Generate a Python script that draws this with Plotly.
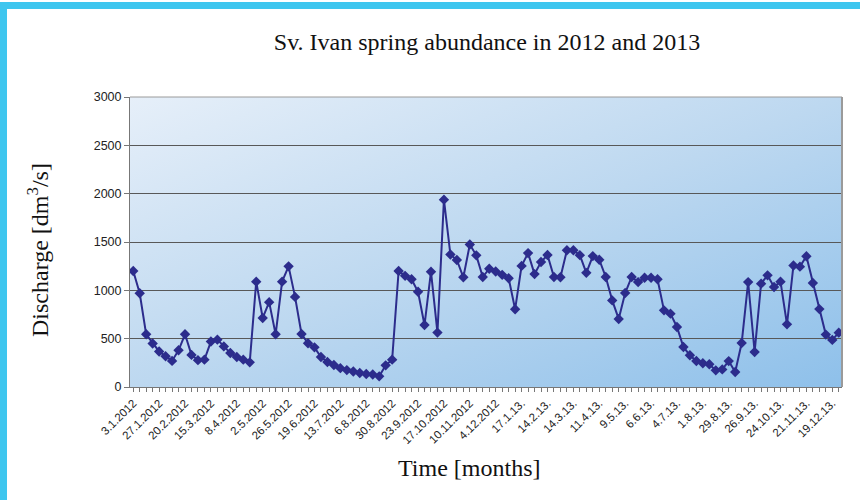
import base64
import plotly.graph_objects as go

# Tick labels shown every 4th measurement
tick_labels = ["3.1.2012", "27.1.2012", "20.2.2012", "15.3.2012", "8.4.2012", "2.5.2012",
               "26.5.2012", "19.6.2012", "13.7.2012", "6.8.2012", "30.8.2012", "23.9.2012",
               "17.10.2012", "10.11.2012", "4.12.2012", "17.1.13.", "14.2.13.", "14.3.13.",
               "11.4.13.", "9.5.13.", "6.6.13.", "4.7.13.", "1.8.13.", "29.8.13.", "26.9.13.",
               "24.10.13.", "21.11.13.", "19.12.13."]

# Discharge values [dm3/s]
discharge = [1200, 970, 545, 450, 368, 318, 270, 380, 545, 332,
             278, 283, 470, 490, 420, 352, 310, 283, 255, 1090,
             714, 878, 545, 1090, 1248, 932, 548, 452, 410, 310,
             259, 228, 195, 175, 160, 145, 135, 130, 110, 224,
             283, 1200, 1150, 1115, 985, 641, 1193, 563, 1938, 1370,
             1314, 1135, 1474, 1362, 1138, 1224, 1195, 1160, 1125, 805,
             1253, 1385, 1168, 1293, 1365, 1138, 1135, 1414, 1414, 1364,
             1181, 1354, 1317, 1138, 896, 704, 972, 1138, 1085, 1130,
             1130, 1115, 793, 759, 621, 414, 328, 269, 245, 235,
             172, 182, 268, 155, 455, 1085, 362, 1069, 1155, 1034,
             1090, 648, 1257, 1245, 1352, 1076, 806, 542, 487, 562]

y_ticks = [0, 500, 1000, 1500, 2000, 2500, 3000]

x_idx = list(range(len(discharge)))
tick_pos = x_idx[::4][:len(tick_labels)]

svg = ("<svg xmlns='http://www.w3.org/2000/svg' width='712' height='290' preserveAspectRatio='none'>"
       "<defs><linearGradient id='g' x1='0' y1='0' x2='1' y2='1'>"
       "<stop offset='0' stop-color='#e6eff9'/><stop offset='0.5' stop-color='#bdd8f0'/>"
       "<stop offset='1' stop-color='#8ec0ea'/></linearGradient></defs>"
       "<rect width='712' height='290' fill='url(#g)'/></svg>")
svg_uri = "data:image/svg+xml;base64," + base64.b64encode(svg.encode()).decode()

fig = go.Figure()
fig.add_trace(go.Scatter(
    x=x_idx, y=discharge, mode="lines+markers",
    line=dict(color="#2c2c8c", width=2),
    marker=dict(symbol="diamond", size=8, color="#2c2c8c"),
    showlegend=False,
))

L, R, T, B = 130, 18, 97, 113
W, H = 860, 500
pw, ph = W - L - R, H - T - B

def px_x(p):
    return (p - L) / pw

def px_y(p):
    return (H - B - p) / ph

serif = "Liberation Serif"

fig.update_layout(
    width=W, height=H,
    margin=dict(l=L, r=R, t=T, b=B),
    paper_bgcolor="white",
    plot_bgcolor="rgba(0,0,0,0)",
    title=dict(text="Sv. Ivan spring abundance in 2012 and 2013",
               font=dict(family=serif, size=24, color="#111"),
               x=487 / W, xanchor="center",
               y=1 - 42 / H, yanchor="middle"),
    images=[dict(source=svg_uri, xref="paper", yref="paper", x=0, y=1,
                 sizex=1, sizey=1, sizing="stretch", xanchor="left", yanchor="top",
                 layer="below")],
    xaxis=dict(range=[-0.5, len(discharge) - 0.5], tickmode="array",
               tickvals=tick_pos, ticktext=tick_labels, tickangle=-45,
               tickfont=dict(family="Liberation Sans", size=11.5, color="#222"),
               ticks="outside", ticklen=4, tickcolor="#777",
               minor=dict(ticks="outside", ticklen=4, tickcolor="#777", dtick=1, tick0=0),
               showgrid=False, showline=True, linecolor="#777", linewidth=1,
               mirror=False, zeroline=False),
    yaxis=dict(range=[0, 3000], tickvals=y_ticks,
               tickfont=dict(family="Liberation Sans", size=12.5, color="#222"),
               ticks="outside", ticklen=5, tickcolor="#777",
               showgrid=True, gridcolor="#585858", gridwidth=1.4,
               showline=True, linecolor="#777", linewidth=1, zeroline=False),
    annotations=[
        dict(text="Discharge [dm<sup>3</sup>/s]", xref="paper", yref="paper",
             x=px_x(38), y=px_y(250), textangle=-90, showarrow=False,
             font=dict(family=serif, size=24, color="#111"),
             xanchor="center", yanchor="middle"),
        dict(text="Time [months]", xref="paper", yref="paper",
             x=px_x(469), y=px_y(468), showarrow=False,
             font=dict(family=serif, size=24, color="#111"),
             xanchor="center", yanchor="middle"),
    ],
    shapes=[
        # right and top frame of plot area
        dict(type="line", xref="paper", yref="paper", x0=1, x1=1, y0=0, y1=1,
             line=dict(color="#9a9a9a", width=2)),
        dict(type="line", xref="paper", yref="paper", x0=0, x1=1, y0=1, y1=1,
             line=dict(color="#9a9a9a", width=1)),
        # cyan outer frame (left and top)
        dict(type="rect", xref="paper", yref="paper", x0=px_x(0), x1=px_x(7),
             y0=px_y(500), y1=px_y(2), fillcolor="#3ec6ef", line=dict(width=0),
             layer="above"),
        dict(type="rect", xref="paper", yref="paper", x0=px_x(0), x1=px_x(860),
             y0=px_y(9), y1=px_y(2), fillcolor="#3ec6ef", line=dict(width=0),
             layer="above"),
    ],
)

fig.write_html("out.html",
               config={"displayModeBar": False},
               post_script="document.body.style.margin='0';document.body.style.overflow='hidden';")
